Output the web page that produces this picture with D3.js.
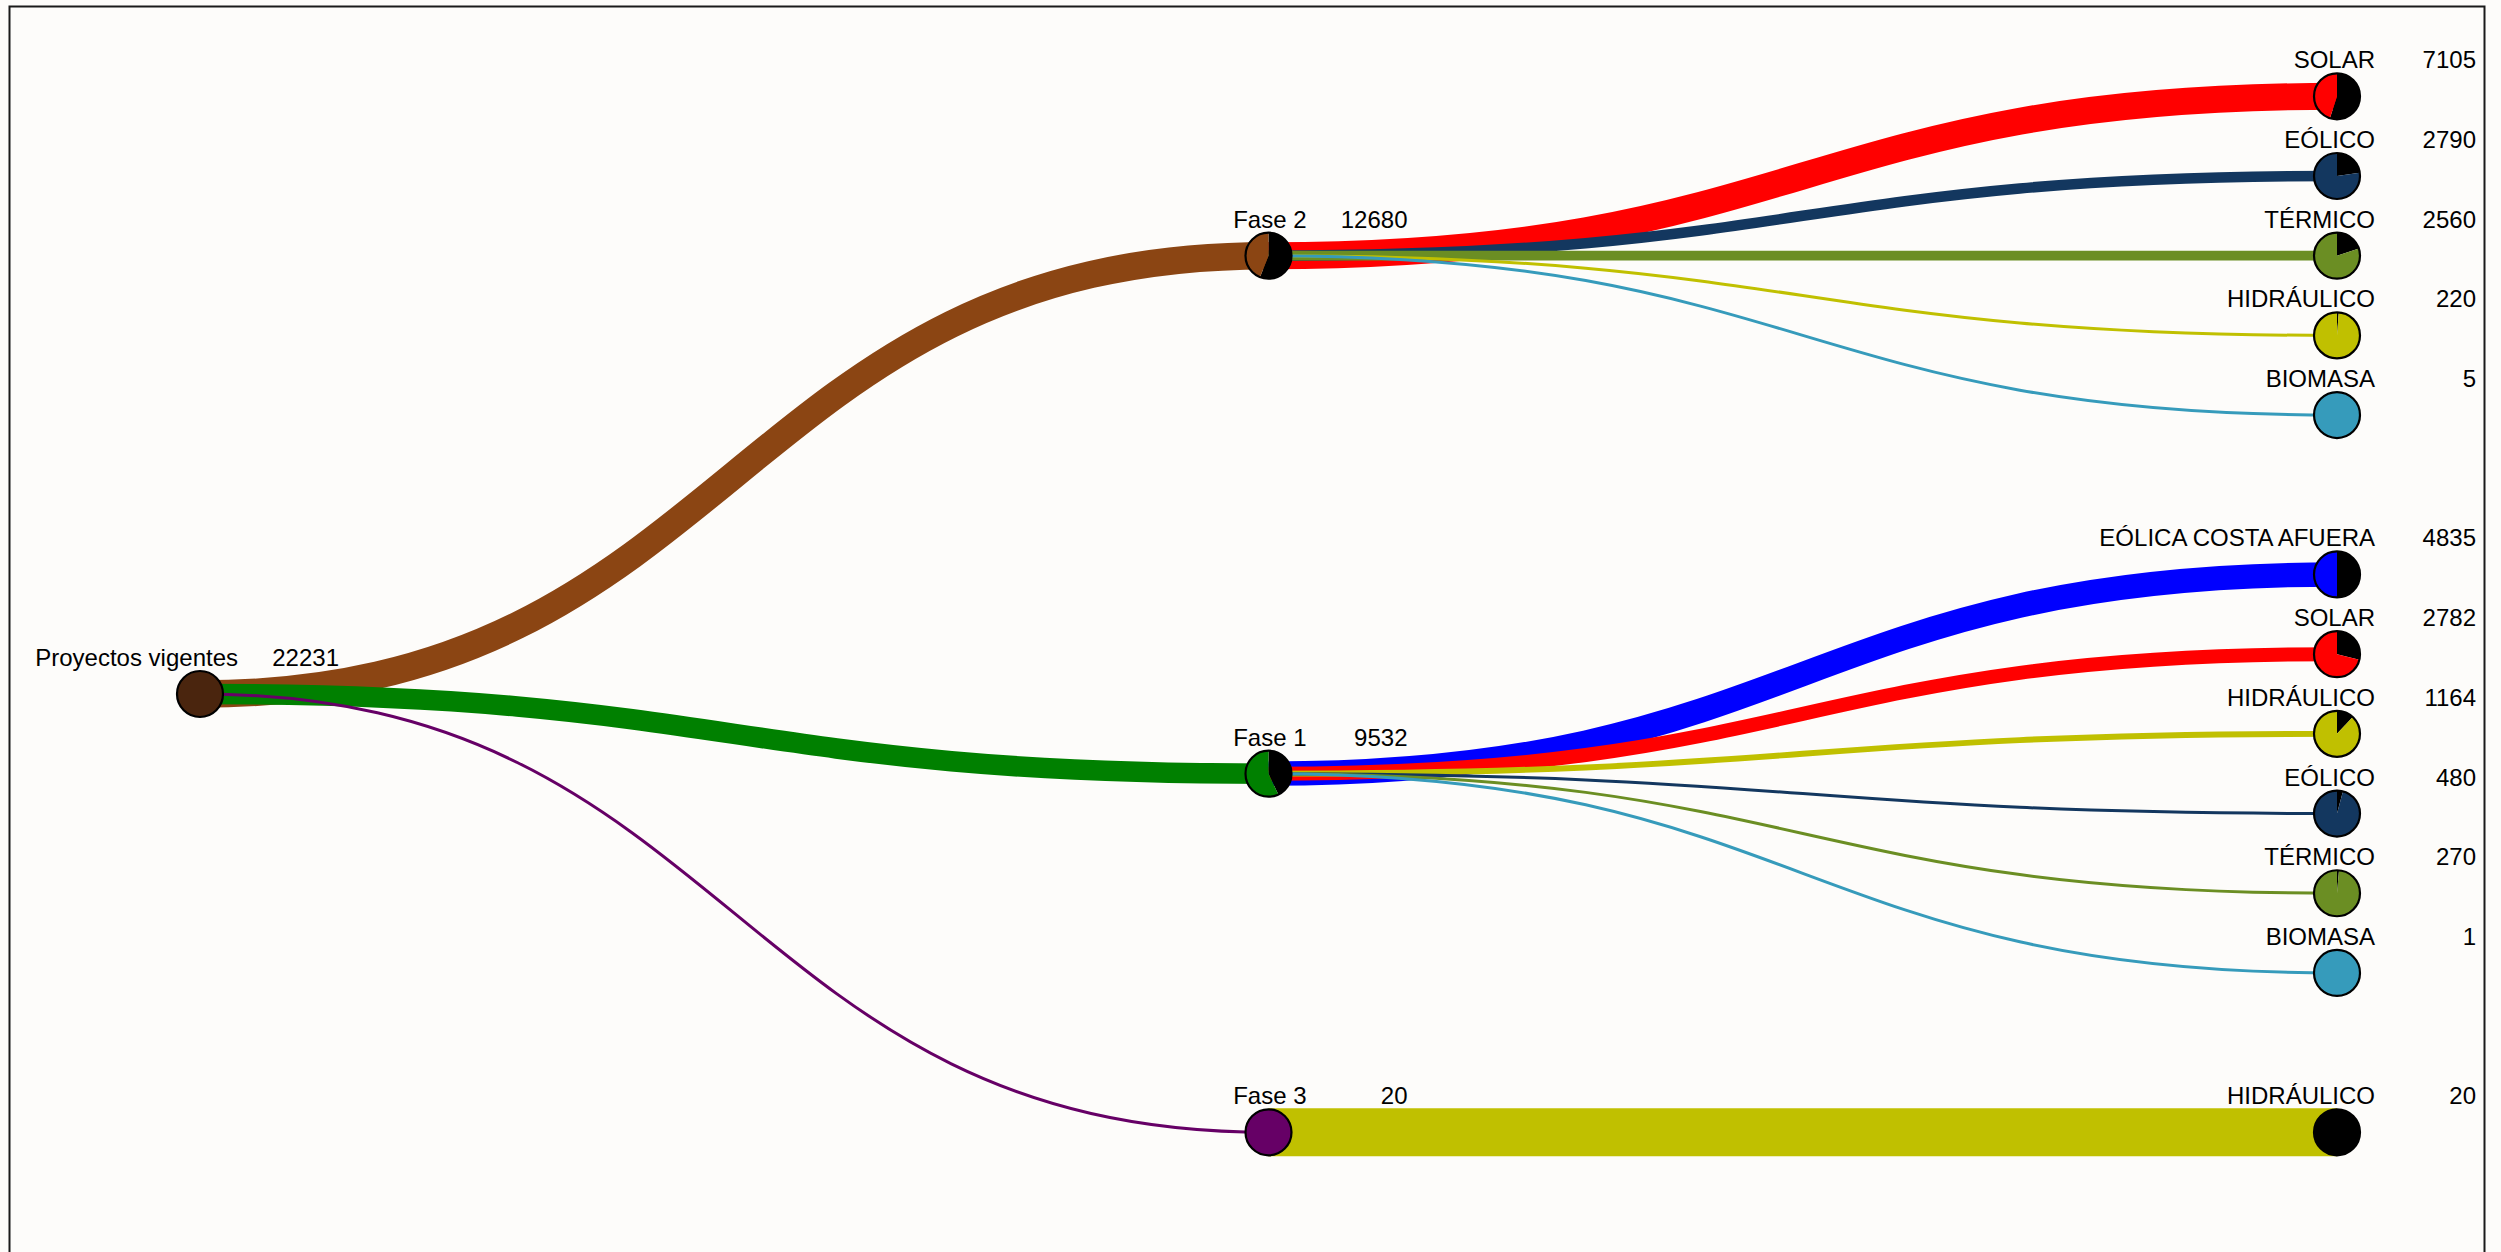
<!DOCTYPE html>
<html>
<head>
<meta charset="utf-8">
<script src="https://cdn.jsdelivr.net/npm/d3@7"></script>
<style>
  html, body { margin: 0; padding: 0; background: #fdfcfa; }
  svg { display: block; }
  text { font-family: "Liberation Sans", Arial, sans-serif; font-size: 24px; fill: #000; }
</style>
</head>
<body>
<svg id="chart" width="2501" height="1252"></svg>
<script>
// Root
const rootLabel = "Proyectos vigentes";
const rootValue = 22231;

// Phases (value in MW, share = black slice of each node's pie)
const phases = ["Fase 2", "Fase 1", "Fase 3"];
const phaseValues = [12680, 9532, 20];
const phaseShare = [0.56, 0.43, 0];
const phaseColors = ["#8b4513", "#008000", "#660066"];

// Technologies per phase
const fase2Tech = ["SOLAR", "EÓLICO", "TÉRMICO", "HIDRÁULICO", "BIOMASA"];
const fase2Values = [7105, 2790, 2560, 220, 5];
const fase2Share = [0.55, 0.227, 0.20, 0.012, 0];

const fase1Tech = ["EÓLICA COSTA AFUERA", "SOLAR", "HIDRÁULICO", "EÓLICO", "TÉRMICO", "BIOMASA"];
const fase1Values = [4835, 2782, 1164, 480, 270, 1];
const fase1Share = [0.5, 0.29, 0.12, 0.042, 0.014, 0];

const fase3Tech = ["HIDRÁULICO"];
const fase3Values = [20];
const fase3Share = [1];

const techColors = {
  "SOLAR": "#ff0000",
  "EÓLICO": "#13375f",
  "TÉRMICO": "#6b8e23",
  "HIDRÁULICO": "#c0c000",
  "BIOMASA": "#369bbb",
  "EÓLICA COSTA AFUERA": "#0000ff"
};
const rootColor = "#4a250e";

// Build the hierarchy
const techLists = [
  [fase2Tech, fase2Values, fase2Share],
  [fase1Tech, fase1Values, fase1Share],
  [fase3Tech, fase3Values, fase3Share]
];
const data = {
  name: rootLabel, value: rootValue, share: 0, color: rootColor,
  children: phases.map((p, i) => ({
    name: p, value: phaseValues[i], share: phaseShare[i], color: phaseColors[i],
    children: techLists[i][0].map((t, j) => ({
      name: t, value: techLists[i][1][j], share: techLists[i][2][j], color: techColors[t]
    }))
  }))
};

const svg = d3.select("#chart");

// Frame
svg.append("rect")
  .attr("x", 9.5).attr("y", 6.5)
  .attr("width", 2475).attr("height", 1300)
  .attr("fill", "none").attr("stroke", "#1a1a1a").attr("stroke-width", 2);

const root = d3.hierarchy(data);
d3.tree().nodeSize([1036 / 13, 1068.5])(root);

const g = svg.append("g").attr("transform", "translate(200,694)");

// Link width: share of the parent's total
const widthScale = d3.scaleLinear().domain([0, 1]).range([0, 48]);
const linkWidth = l => Math.max(3, widthScale(l.target.data.value / l.source.data.value));

const link = d3.linkHorizontal().x(d => d.y).y(d => d.x);

g.append("g").attr("fill", "none")
  .selectAll("path")
  .data(root.links())
  .join("path")
  .attr("d", link)
  .attr("stroke", d => d.target.data.color)
  .attr("stroke-width", linkWidth);

// Nodes as small pies
const R = 23;
const pie = d3.pie().sort(null);
const arc = d3.arc().innerRadius(0).outerRadius(R);

const node = g.append("g")
  .selectAll("g")
  .data(root.descendants())
  .join("g")
  .attr("transform", d => `translate(${d.y},${d.x})`);

node.each(function(d) {
  const sel = d3.select(this);
  const s = d.data.share;
  const arcs = pie([s, 1 - s]);
  sel.selectAll("path")
    .data(arcs)
    .join("path")
    .attr("d", arc)
    .attr("fill", (a, i) => i === 0 ? "#000" : d.data.color);
  sel.append("circle")
    .attr("r", R)
    .attr("fill", "none")
    .attr("stroke", "#000")
    .attr("stroke-width", 2.2);
});

node.append("text")
  .attr("x", 38).attr("y", -28)
  .attr("text-anchor", "end")
  .text(d => d.data.name);

node.append("text")
  .attr("x", 139).attr("y", -28)
  .attr("text-anchor", "end")
  .text(d => d.data.value);
</script>
</body>
</html>
